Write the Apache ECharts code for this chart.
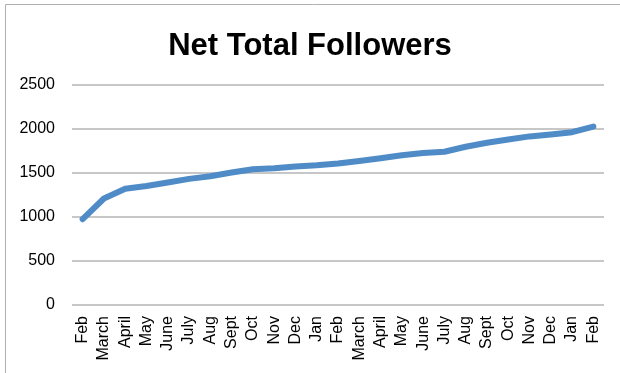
<!DOCTYPE html>
<html>
<head>
<meta charset="utf-8">
<script src="https://cdn.jsdelivr.net/npm/echarts@6/dist/echarts.min.js"></script>
<style>html,body{margin:0;padding:0;background:#fff}#c{width:620px;height:373px}</style>
</head>
<body>
<div id="c"></div>
<script>
const categories = ["Feb","March","April","May","June","July","Aug","Sept","Oct","Nov","Dec","Jan","Feb","March","April","May","June","July","Aug","Sept","Oct","Nov","Dec","Jan","Feb"];
const followers = [975,1210,1320,1352,1392,1433,1464,1505,1543,1554,1575,1588,1608,1636,1667,1702,1727,1741,1798,1843,1881,1916,1938,1964,2028];
const yTicks = [0,500,1000,1500,2000,2500];

const chart = echarts.init(document.getElementById('c'), null, {renderer:'canvas'});
chart.setOption({
  animation:false,
  backgroundColor:'#fff',
  title:{text:'Net Total Followers',left:'center',top:26,textStyle:{fontFamily:'Liberation Sans, Arial, sans-serif',fontSize:31,fontWeight:'bold',color:'#000'}},
  graphic:[{type:'rect',shape:{x:5.5,y:4.5,width:620,height:372},style:{fill:'none',stroke:'#b0b0b0',lineWidth:1},silent:true}],
  grid:{left:72,right:16,top:85,bottom:68,containLabel:false},
  xAxis:{type:'category',data:categories,boundaryGap:true,
    axisLine:{show:false},axisTick:{show:false},
    axisLabel:{rotate:90,interval:0,margin:11,fontFamily:'Liberation Sans, Arial, sans-serif',fontSize:16,color:'#000'}},
  yAxis:{type:'value',min:yTicks[0],max:yTicks[yTicks.length-1],interval:500,
    axisLine:{show:false},axisTick:{show:false},
    axisLabel:{margin:17,fontFamily:'Liberation Sans, Arial, sans-serif',fontSize:16,color:'#000',formatter:function(v){return String(v);}},
    splitLine:{lineStyle:{color:'#b4b4b4',width:1.5}}},
  series:[{type:'line',data:followers,showSymbol:false,symbol:'none',
    lineStyle:{color:'#4f8bc6',width:6,cap:'round',join:'round'}}]
});
</script>
</body>
</html>
